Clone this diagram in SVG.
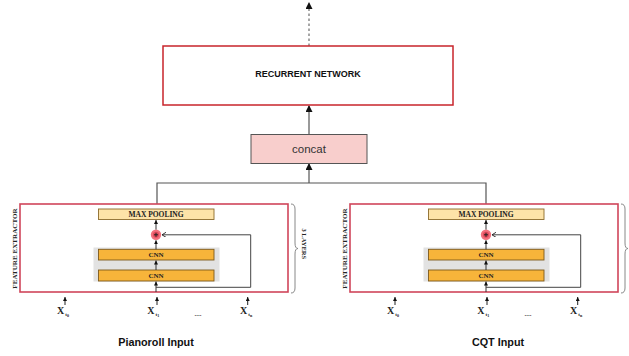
<svg xmlns="http://www.w3.org/2000/svg" width="629" height="356" viewBox="0 0 629 356">
<defs>
<marker id="big" markerUnits="userSpaceOnUse" markerWidth="8" markerHeight="8" refX="6" refY="3.5" orient="auto">
<path d="M0,0 L7,3.5 L0,7 Z" fill="#111"/>
</marker>
<marker id="sm" markerUnits="userSpaceOnUse" markerWidth="6" markerHeight="6" refX="4" refY="2" orient="auto">
<path d="M0,0 L4,2 L0,4 Z" fill="#111"/>
</marker>
<marker id="open" markerUnits="userSpaceOnUse" markerWidth="6" markerHeight="6" refX="4" refY="2.5" orient="auto">
<path d="M0,0 L4,2.5 L0,5" fill="none" stroke="#222" stroke-width="0.9"/>
</marker>
<g id="panel">
<rect x="20" y="204" width="268" height="88" fill="#fff" stroke="#d0455a" stroke-width="1.6"/>
<rect x="93.5" y="247.5" width="126" height="34" fill="#e2e2e2"/>
<rect x="98.5" y="209" width="115.5" height="10.5" fill="#fde3a8" stroke="#8c6a2c" stroke-width="0.9"/>
<text x="156" y="216.8" class="ser" font-size="7.5">MAX  POOLING</text>
<rect x="98.5" y="249.3" width="115.5" height="10.7" fill="#f7b43a" stroke="#7d5a1c" stroke-width="0.9"/>
<text x="156" y="257.4" class="ser" font-size="7">CNN</text>
<rect x="98.5" y="270" width="115.5" height="11" fill="#f7b43a" stroke="#7d5a1c" stroke-width="0.9"/>
<text x="156" y="278.2" class="ser" font-size="7">CNN</text>
<circle cx="156" cy="234.8" r="5.2" fill="#f2707c"/>
<circle cx="156" cy="234.8" r="3" fill="#e0485a"/>
<path d="M154,234.8 H158 M156,232.8 V236.8" stroke="#222" stroke-width="1"/>
<g fill="none" stroke="#333" stroke-width="1">
<line x1="156" y1="292" x2="156" y2="281.5" marker-end="url(#sm)"/>
<line x1="156" y1="270" x2="156" y2="260.5" marker-end="url(#sm)"/>
<line x1="156" y1="249.3" x2="156" y2="240.3" marker-end="url(#sm)"/>
<line x1="156" y1="229.6" x2="156" y2="220" marker-end="url(#sm)"/>
<polyline points="156,287.3 250.7,287.3 250.7,234.8 162,234.8" stroke="#444" marker-end="url(#open)"/>
</g>
<text x="0" y="0" class="ser" font-size="7.1" transform="translate(16.8,248.5) rotate(-90)">FEATURE EXTRACTOR</text>
</g>
</defs>
<style>
.ser{font-family:"Liberation Serif","Times New Roman",serif;font-weight:bold;text-anchor:middle;fill:#222}
.sans{font-family:"Liberation Sans",Arial,sans-serif;text-anchor:middle}
.x{font-family:"Liberation Serif","Times New Roman",serif;font-weight:bold;fill:#222}
</style>
<rect width="629" height="356" fill="#fff"/>
<g id="connectors" fill="none" stroke="#555" stroke-width="1.2">
<line x1="309" y1="46" x2="309" y2="3" stroke="#777" stroke-width="1.3" stroke-dasharray="2.5,2.5" marker-end="url(#big)"/>
<line x1="309" y1="134" x2="309" y2="106" marker-end="url(#big)"/>
<line x1="309" y1="183" x2="309" y2="164" marker-end="url(#big)"/>
<polyline points="157,204 157,183 486,183 486,204"/>
</g>
<g id="recurrent-network">
<rect x="163" y="46" width="290" height="59" fill="#fff" stroke="#c8242b" stroke-width="1.5"/>
<text x="308" y="77.2" class="sans" font-size="9" font-weight="bold" fill="#111">RECURRENT NETWORK</text>
</g>
<g id="concat">
<rect x="251" y="134.5" width="116" height="29" fill="#f8cecc" stroke="#555" stroke-width="1"/>
<text x="309" y="153" class="sans" font-size="11.5" fill="#333">concat</text>
</g>
<g id="feature-extractor-pianoroll">
<use href="#panel"/>
<path d="M291,204 Q295,204 295,209 L295,243 Q295,248.5 298,248.5 Q295,248.5 295,254 L295,288 Q295,293 291,293" fill="none" stroke="#888" stroke-width="1"/>
<text x="0" y="0" class="ser" font-size="6.5" transform="translate(302.4,243.8) rotate(90)">3 LAYERS</text>
</g>
<g id="feature-extractor-cqt">
<use href="#panel" x="330"/>
<path d="M621,204 Q625,204 625,209 L625,243 Q625,248.5 628,248.5 Q625,248.5 625,254 L625,288 Q625,293 621,293" fill="none" stroke="#888" stroke-width="1"/>
</g>
<g id="inputs-pianoroll">
<g fill="none" stroke="#222" stroke-width="1">
<line x1="65" y1="305" x2="65" y2="297" marker-end="url(#sm)"/>
<line x1="157" y1="305" x2="157" y2="297" marker-end="url(#sm)"/>
<line x1="247.7" y1="305" x2="247.7" y2="297" marker-end="url(#sm)"/>
</g>
<text x="57" y="314" class="x" font-size="10">X<tspan font-size="5" dy="1.5" dx="1">t</tspan><tspan font-size="4" dy="1.2">0</tspan></text>
<text x="147.3" y="314" class="x" font-size="10">X<tspan font-size="5" dy="1.5" dx="1">t</tspan><tspan font-size="4" dy="1.2">1</tspan></text>
<text x="240" y="314" class="x" font-size="10">X<tspan font-size="5" dy="1.5" dx="1">t</tspan><tspan font-size="4" dy="1.2">n</tspan></text>
<text x="198" y="316" class="ser" font-size="7">....</text>
<text x="156" y="345.5" class="sans" font-size="10.8" font-weight="bold" fill="#111">Pianoroll Input</text>
</g>
<g id="inputs-cqt">
<g fill="none" stroke="#222" stroke-width="1">
<line x1="395" y1="305" x2="395" y2="297" marker-end="url(#sm)"/>
<line x1="487" y1="305" x2="487" y2="297" marker-end="url(#sm)"/>
<line x1="577.7" y1="305" x2="577.7" y2="297" marker-end="url(#sm)"/>
</g>
<text x="387" y="314" class="x" font-size="10">X<tspan font-size="5" dy="1.5" dx="1">t</tspan><tspan font-size="4" dy="1.2">0</tspan></text>
<text x="477.3" y="314" class="x" font-size="10">X<tspan font-size="5" dy="1.5" dx="1">t</tspan><tspan font-size="4" dy="1.2">1</tspan></text>
<text x="570" y="314" class="x" font-size="10">X<tspan font-size="5" dy="1.5" dx="1">t</tspan><tspan font-size="4" dy="1.2">n</tspan></text>
<text x="528" y="316" class="ser" font-size="7">....</text>
<text x="498" y="345.5" class="sans" font-size="10.8" font-weight="bold" fill="#111">CQT Input</text>
</g>
</svg>
